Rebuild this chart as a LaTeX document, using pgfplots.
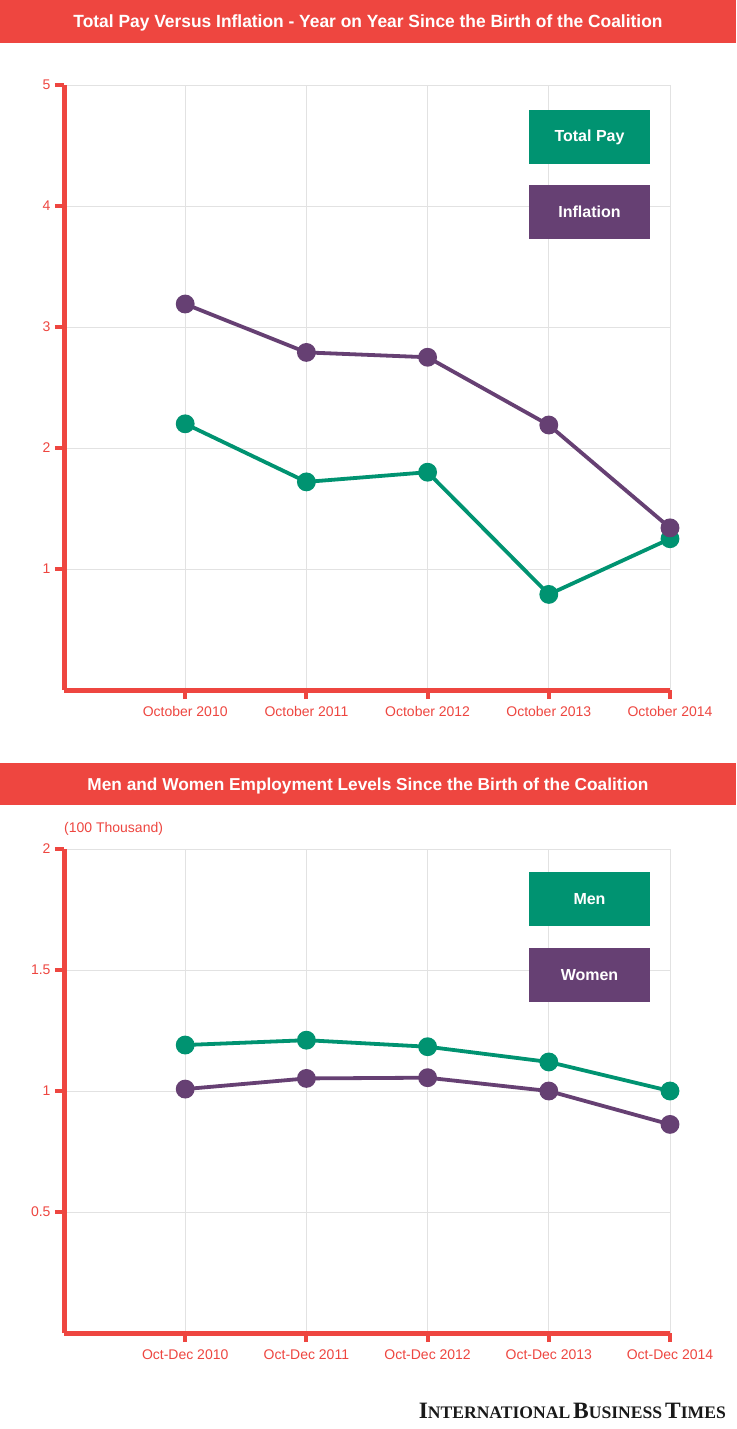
\documentclass[border=0pt]{standalone}
\usepackage{pgfplots}
\pgfplotsset{compat=1.18}
\usepackage{fontspec}
\setmainfont{Liberation Sans}
\newfontfamily\logofont{Liberation Serif}
\definecolor{ibred}{HTML}{EE4640}
\definecolor{ibgreen}{HTML}{009371}
\definecolor{ibpurple}{HTML}{664073}
\definecolor{gridgray}{HTML}{E2E2E2}
\pgfplotsset{
  ibstyle/.style={
    scale only axis, width=606pt,
    xmin=-1, xmax=4, ymin=0,
    axis x line=bottom, axis y line=left,
    axis line style={ibred, line width=5pt, -},
    xtick={0,1,2,3,4},
    grid=major, grid style={gridgray, line width=0.9pt},
    major tick length=9pt, tick align=outside,
    tick style={ibred, line width=4pt},
    ticklabel style={text=ibred, font=\fontsize{14}{16}\selectfont},
    xticklabel style={yshift=-4pt},
    yticklabel style={xshift=-1pt},
    /pgf/number format/assume math mode=true,
    clip=false,
  },
  ibline/.style={color=#1, line width=3.8pt, mark=*, mark size=7.5pt,
    mark options={draw=none, fill=#1}},
}
\begin{document}
\begin{tikzpicture}[x=1pt,y=1pt]
\path[use as bounding box] (0,0) rectangle (736,-1429);
\fill[white] (0,0) rectangle (736,-1429);
% Banner 1
\fill[ibred] (0,0) rectangle (736,-43);
\node[anchor=base, inner sep=0, text=white] at (368,-28) {\resizebox{589pt}{12.8pt}{\bfseries Total Pay Versus Inflation - Year on Year Since the Birth of the Coalition}};
% Banner 2
\fill[ibred] (0,-763) rectangle (736,-805);
\node[anchor=base, inner sep=0, text=white] at (368,-790) {\resizebox{561pt}{12.5pt}{\bfseries Men and Women Employment Levels Since the Birth of the Coalition}};

\begin{axis}[ibstyle, height=605pt, at={(64pt,-690pt)}, anchor=south west,
  ymax=5, ytick={1,2,3,4,5},
  xticklabels={October 2010,October 2011,October 2012,October 2013,October 2014}]
\addplot[ibline=ibgreen] coordinates {(0,2.2) (1,1.72) (2,1.8) (3,0.79) (4,1.25)};
\addplot[ibline=ibpurple] coordinates {(0,3.19) (1,2.79) (2,2.75) (3,2.19) (4,1.34)};
\end{axis}

\begin{axis}[ibstyle, height=484pt, at={(64pt,-1333pt)}, anchor=south west,
  ymax=2, ytick={0.5,1,1.5,2},
  xticklabels={Oct-Dec 2010,Oct-Dec 2011,Oct-Dec 2012,Oct-Dec 2013,Oct-Dec 2014}]
\addplot[ibline=ibgreen] coordinates {(0,1.19) (1,1.21) (2,1.183) (3,1.12) (4,1.0)};
\addplot[ibline=ibpurple] coordinates {(0,1.008) (1,1.052) (2,1.055) (3,1.0) (4,0.862)};
\end{axis}

% legends
\node[fill=ibgreen, minimum width=121pt, minimum height=54pt, inner sep=0, text=white, font=\fontsize{16}{18}\selectfont\bfseries] at (589.5,-137) {Total Pay};
\node[fill=ibpurple, minimum width=121pt, minimum height=54pt, inner sep=0, text=white, font=\fontsize{16}{18}\selectfont\bfseries] at (589.5,-212) {Inflation};
\node[fill=ibgreen, minimum width=121pt, minimum height=54pt, inner sep=0, text=white, font=\fontsize{16}{18}\selectfont\bfseries] at (589.5,-899) {Men};
\node[fill=ibpurple, minimum width=121pt, minimum height=54pt, inner sep=0, text=white, font=\fontsize{16}{18}\selectfont\bfseries] at (589.5,-975) {Women};

% unit label
\node[anchor=west, inner sep=0, text=ibred, font=\fontsize{14}{16}\selectfont] at (64,-829) {(100 Thousand)};

% logo
\node[anchor=base east, inner sep=0, text=black!90] at (726,-1418) {\resizebox{307pt}{!}{\logofont\bfseries{\fontsize{20}{20}\selectfont I}{\fontsize{15}{15}\selectfont NTERNATIONAL} {\fontsize{20}{20}\selectfont B}{\fontsize{15}{15}\selectfont USINESS} {\fontsize{20}{20}\selectfont T}{\fontsize{15}{15}\selectfont IMES}}};
\end{tikzpicture}
\end{document}
